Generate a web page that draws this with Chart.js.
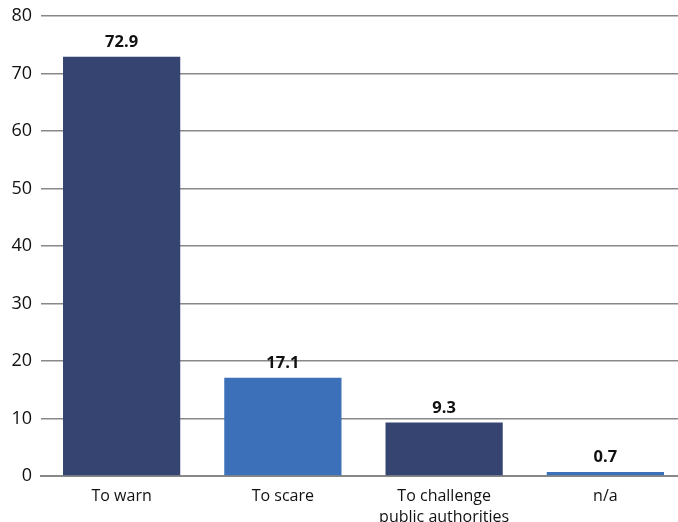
<!DOCTYPE html>
<html><head><meta charset="utf-8">
<script src="https://cdn.jsdelivr.net/npm/chart.js@4"></script>
<style>html,body{margin:0;padding:0;background:#fff;overflow:hidden}#wrap{width:678px;height:522px;overflow:hidden}</style>
</head><body><div id="wrap"><canvas id="c" width="686" height="522"></canvas></div>
<script>
const categories = [["To warn"], ["To scare"], ["To challenge", "public authorities"], ["n/a"]];
const values = [72.9, 17.1, 9.3, 0.7];
const valueLabels = ["72.9", "17.1", "9.3", "0.7"];
const yTicks = [0, 10, 20, 30, 40, 50, 60, 70, 80];
const colors = ["#364471", "#3c70b8", "#364471", "#3c70b8"];

const labelPlugin = {
  id: 'vlabels',
  afterDatasetsDraw(chart) {
    const ctx = chart.ctx;
    const meta = chart.getDatasetMeta(0);
    ctx.save();
    ctx.font = 'bold 16.5px "Open Sans", sans-serif';
    ctx.fillStyle = '#111';
    ctx.textAlign = 'center';
    ctx.textBaseline = 'alphabetic';
    meta.data.forEach((bar, i) => {
      ctx.fillText(valueLabels[i], bar.x, bar.y - 10);
    });
    ctx.restore();
  }
};

new Chart(document.getElementById('c'), {
  type: 'bar',
  data: {
    labels: categories,
    datasets: [{ data: values, backgroundColor: colors, categoryPercentage: 0.727, barPercentage: 1.0 }]
  },
  options: {
    responsive: false,
    animation: false,
    layout: { padding: { top: 16, right: 0, left: 0, bottom: 0 } },
    plugins: { legend: { display: false }, tooltip: { enabled: false } },
    scales: {
      x: {
        grid: { display: false },
        border: { color: '#888', width: 2 },
        ticks: { color: '#111', font: { family: '"Open Sans", sans-serif', size: 16, lineHeight: 1.3 }, padding: 2, maxRotation: 0, autoSkip: false },
        afterFit(s) { s.height = 46; s.paddingLeft = 0; s.paddingRight = 0; }
      },
      y: {
        min: 0, max: 80,
        afterBuildTicks(s) { s.ticks = yTicks.map(v => ({ value: v })); },
        grid: { color: '#888', lineWidth: 1.5, drawTicks: false },
        border: { display: false },
        ticks: { color: '#111', font: { family: '"Open Sans", sans-serif', size: 18 }, padding: 9 },
        afterFit(s) { s.width = 41; s.paddingTop = 0; s.paddingBottom = 0; }
      }
    }
  },
  plugins: [labelPlugin]
});
</script></body></html>
